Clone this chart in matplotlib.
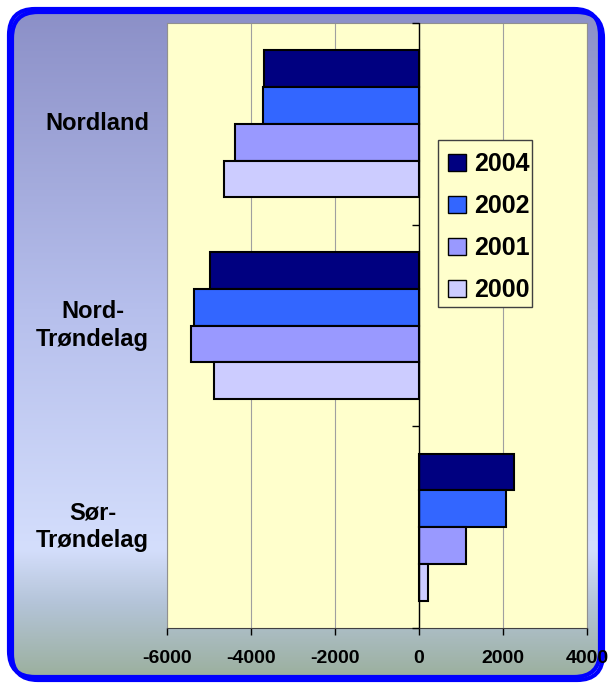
import numpy as np
import matplotlib
matplotlib.use("Agg")
import matplotlib.pyplot as plt
from matplotlib.patches import FancyBboxPatch, Rectangle
from matplotlib.colors import LinearSegmentedColormap
from matplotlib.transforms import blended_transform_factory
from matplotlib.markers import TICKLEFT

plt.rcParams['font.family'] = ['Liberation Sans', 'DejaVu Sans']

# data
regioner = ["Nordland", "Nord-\nTrøndelag", "Sør-\nTrøndelag"]
aar = ["2004", "2002", "2001", "2000"]
v2004 = [-3680, -4980, 2260]
v2002 = [-3720, -5360, 2070]
v2001 = [-4390, -5430, 1120]
v2000 = [-4650, -4880, 220]
farger = ["#000080", "#3366FF", "#9999FF", "#CCCCFF"]
xticks = [-6000, -4000, -2000, 0, 2000, 4000]

W, H = 612, 687
fig = plt.figure(figsize=(W / 100, H / 100), dpi=100)

# bakgrunn med avrundet ramme og gradient
bg = fig.add_axes([0, 0, 1, 1])
bg.set_xlim(0, W)
bg.set_ylim(H, 0)
bg.axis("off")
cmap = LinearSegmentedColormap.from_list(
    "bg", [(0.0, "#8a8ec6"), (0.45, "#b6bfec"), (0.80, "#d4defc"),
           (0.88, "#b4c4d8"), (1.0, "#98ad96")])
grad = np.linspace(0, 1, 256).reshape(-1, 1)
im = bg.imshow(grad, cmap=cmap, extent=[0, W, H, 0], aspect="auto", zorder=0)
skygge = FancyBboxPatch((12, 12), W - 21, H - 19,
                        boxstyle="round,pad=0,rounding_size=26",
                        fc="none", ec="#0000ff", lw=3, zorder=1)
ramme = FancyBboxPatch((9, 9), W - 21, H - 19,
                       boxstyle="round,pad=0,rounding_size=26",
                       fc="none", ec="#0000ff", lw=3, zorder=2)
bg.add_patch(skygge)
bg.add_patch(ramme)
im.set_clip_path(ramme)

# hoveddiagram
x0, x1, y0, y1 = 167, 587, 23, 628
ax = fig.add_axes([x0 / W, 1 - y1 / H, (x1 - x0) / W, (y1 - y0) / H])
ax.set_facecolor("#FFFFCC")

h = 0.182
pos = np.arange(len(regioner))
serier = [v2004, v2002, v2001, v2000]
for k, (verdier, farge) in enumerate(zip(serier, farger)):
    ax.barh(pos + (k - 1.5) * h, verdier, height=h, color=farge,
            edgecolor="black", linewidth=1.5, label=aar[k], zorder=3)

ax.set_xlim(-6000, 4000)
ax.set_ylim(2.5, -0.5)
ax.set_xticks(xticks)
ax.set_xticklabels([str(t) for t in xticks], fontsize=14, fontweight="bold")
ax.tick_params(axis="x", direction="out", length=5, width=1, colors="black", pad=11)
ax.set_yticks([])
ax.grid(axis="x", color="#a0a0a0", linewidth=0.8, zorder=1)
for s in ["left", "right", "top"]:
    ax.spines[s].set_color("#909090")
ax.spines["bottom"].set_color("#404040")

# kategoriakse ved null
ax.axvline(0, color="black", linewidth=1, zorder=4)
grenser = [-0.5, 0.5, 1.5, 2.5]
ax.plot([0] * len(grenser), grenser, linestyle="none", marker=TICKLEFT,
        markersize=5, color="black", clip_on=False, zorder=4)

tr = blended_transform_factory(fig.transFigure, ax.transData)
for p, navn in zip(pos, regioner):
    ax.text(149 / W, p, navn, transform=tr, ha="right", va="center",
            multialignment="center", fontsize=17, fontweight="bold",
            linespacing=1.25)

# forklaring: egen ramme, innhold uten ramme
ax.add_patch(Rectangle((438 / W, 1 - 307 / H), 94 / W, 167 / H,
                       transform=fig.transFigure, facecolor="#FFFFCC",
                       edgecolor="#404040", linewidth=1, zorder=5,
                       clip_on=False))
leg = ax.legend(loc="center", bbox_to_anchor=(489 / W, 1 - 227 / H),
                bbox_transform=fig.transFigure,
                prop={"weight": "bold", "size": 18},
                frameon=False, labelspacing=0.72,
                handlelength=0.7, handleheight=0.7, handletextpad=0.35,
                borderpad=0.0, borderaxespad=0)
leg.set_zorder(6)
for hdl in leg.legend_handles:
    hdl.set_linewidth(1)

fig.savefig("out.png", dpi=100)
